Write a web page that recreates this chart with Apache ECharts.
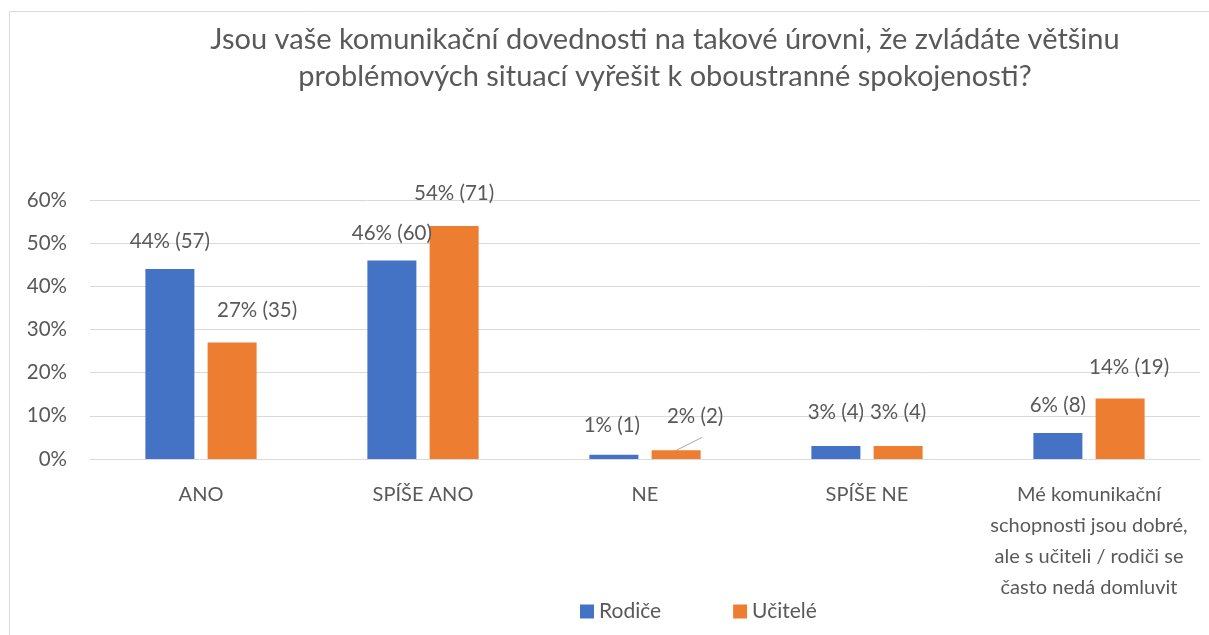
<!DOCTYPE html>
<html>
<head>
<meta charset="utf-8">
<script src="https://cdn.jsdelivr.net/npm/echarts@6/dist/echarts.min.js"></script>
<style>
html,body{margin:0;padding:0;background:#fff;}
#chart{width:1209px;height:635px;}
</style>
</head>
<body>
<div id="chart"></div>
<script>
// ---- data ----
const titleText = 'Jsou vaše komunikační dovednosti na takové úrovni, že zvládáte většinu\nproblémových situací vyřešit k oboustranné spokojenosti?';
const categories = ['ANO', 'SPÍŠE ANO', 'NE', 'SPÍŠE NE', 'Mé komunikační\nschopnosti jsou dobré,\nale s učiteli / rodiči se\nčasto nedá domluvit'];
const seriesNames = ['Rodiče', 'Učitelé'];
const rodicePct = [44, 46, 1, 3, 6];
const rodiceCount = [57, 60, 1, 4, 8];
const ucitelePct = [27, 54, 2, 3, 14];
const uciteleCount = [35, 71, 2, 4, 19];
const yTicks = [0, 10, 20, 30, 40, 50, 60];

// ---- styling (not data) ----
const FONT = 'Lato, "Open Sans", sans-serif';
const TEXT = '#595959';
const colors = ['#4472C4', '#ED7D31'];
// manual label nudges [dx, dy] like in the original (moved labels)
const offsetsR = [[0, 0], [0, 0], [-2, -2], [0, -6], [0, 0]];
const offsetsU = [[25, -5], [0, -5], [19, -6], [0, -6], [9, -4]];
const LEADER_SERIES = 1, LEADER_INDEX = 2;

function buildData(pcts, counts, offs) {
  return pcts.map((v, i) => ({
    value: v,
    label: { formatter: v + '% (' + counts[i] + ')', offset: offs[i] }
  }));
}

const labelBase = {
  show: true, position: 'top', distance: 17,
  color: TEXT, fontFamily: FONT, fontSize: 20.5
};

const chart = echarts.init(document.getElementById('chart'), null, { renderer: 'canvas' });
const baseGraphic = [{
  type: 'polyline', silent: true,
  shape: { points: [[9.5, 700], [9.5, 11.5], [1300, 11.5]] },
  style: { stroke: '#D9D9D9', fill: null, lineWidth: 1 }
}];
chart.setOption({
  animation: false,
  backgroundColor: '#fff',
  title: {
    text: titleText,
    left: 660, top: 16, textAlign: 'center',
    textStyle: { color: TEXT, fontFamily: FONT, fontSize: 29, fontWeight: 'normal', lineHeight: 37 }
  },
  legend: {
    data: seriesNames,
    top: 596, left: 575,
    itemWidth: 14, itemHeight: 14, itemGap: 72,
    icon: 'rect',
    textStyle: { color: TEXT, fontFamily: FONT, fontSize: 21 }
  },
  grid: { left: 90, right: 9, top: 200, bottom: 176, containLabel: false },
  xAxis: {
    type: 'category',
    data: categories,
    axisLine: { show: true, lineStyle: { color: '#D9D9D9' } },
    axisTick: { show: false },
    axisLabel: { color: TEXT, fontFamily: FONT, fontSize: 20, margin: 20, lineHeight: 31, interval: 0 }
  },
  yAxis: {
    type: 'value', min: yTicks[0], max: yTicks[yTicks.length - 1], interval: 10,
    axisLine: { show: false }, axisTick: { show: false },
    splitLine: { lineStyle: { color: '#D9D9D9', width: 1 } },
    axisLabel: { color: TEXT, fontFamily: FONT, fontSize: 20.5, margin: 23, formatter: '{value}%' }
  },
  graphic: baseGraphic,
  series: [
    {
      name: seriesNames[0], type: 'bar',
      data: buildData(rodicePct, rodiceCount, offsetsR),
      itemStyle: { color: colors[0] },
      barWidth: 49, barGap: '27%',
      label: labelBase
    },
    {
      name: seriesNames[1], type: 'bar',
      data: buildData(ucitelePct, uciteleCount, offsetsU),
      itemStyle: { color: colors[1] },
      barWidth: 49, barGap: '27%',
      label: labelBase
    }
  ]
});

// leader line for the moved label (from bar top to label), using the library's own bar layout
const lay = chart.getModel().getSeriesByIndex(LEADER_SERIES).getData().getItemLayout(LEADER_INDEX);
if (lay) {
  const topY = Math.min(lay.y, lay.y + lay.height);
  const cx = lay.x + lay.width / 2;
  chart.setOption({
    graphic: baseGraphic.concat([{
      type: 'line', silent: true,
      shape: { x1: cx, y1: topY, x2: cx + 26, y2: topY - 13 },
      style: { stroke: '#A6A6A6', lineWidth: 1 }
    }])
  });
}
</script>
</body>
</html>
